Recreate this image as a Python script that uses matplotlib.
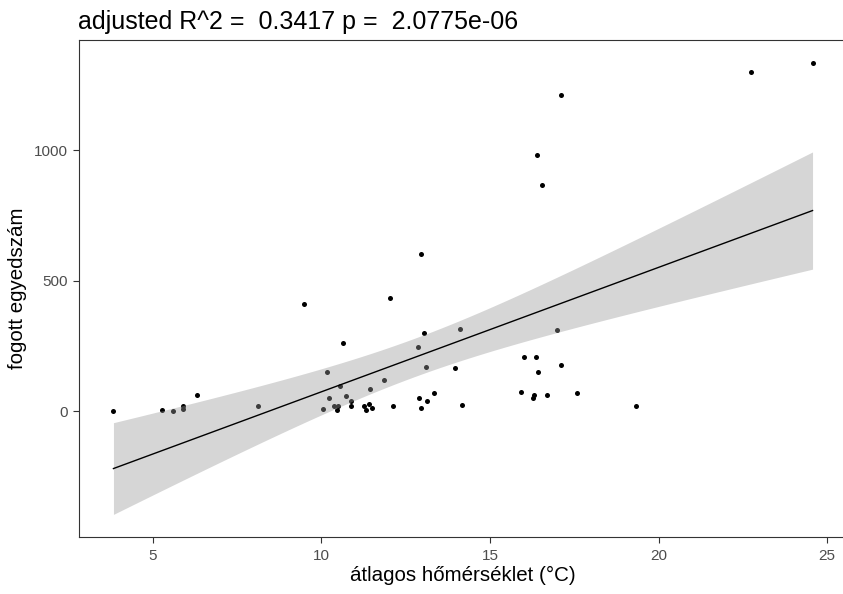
"""
plot.py -- catch count vs. mean temperature, linear fit with 95% CI band (ggplot look).
"""
import numpy as np
import matplotlib
matplotlib.use("Agg")
import matplotlib.pyplot as plt

# mean temperature (°C) per sample
temp = [3.83, 5.27, 5.60, 5.88, 5.88, 6.31, 8.13, 9.47, 10.04, 10.17,
        10.23, 10.36, 10.48, 10.46, 10.54, 10.64, 10.74, 10.89, 10.89, 11.27,
        11.40, 11.32, 11.51, 11.43, 11.86, 12.04, 12.12, 12.86, 12.88, 12.94,
        12.96, 13.04, 13.09, 13.14, 13.33, 13.96, 14.10, 14.17, 15.91, 16.01,
        16.28, 16.32, 16.37, 16.39, 16.42, 16.55, 16.68, 16.99, 17.11, 17.12,
        17.57, 19.33, 22.74, 24.57]
# caught individuals
count = [0, 6, 0, 20, 8, 61, 19, 411, 9, 151,
         52, 19, 20, 5, 98, 263, 59, 38, 19, 19,
         27, 6, 14, 84, 118, 432, 19, 246, 49, 603,
         14, 299, 171, 38, 69, 167, 315, 22, 75, 207,
         52, 62, 207, 982, 152, 867, 61, 313, 1211, 177,
         68, 19, 1299, 1336]

x_ticks = [5, 10, 15, 20, 25]
y_ticks = [0, 500, 1000]
title = "adjusted R^2 =  0.3417 p =  2.0775e-06"
x_label = "átlagos hőmérséklet (°C)"
y_label = "fogott egyedszám"

T_975 = 2.0066  # t quantile, df = n - 2 = 52

x = np.asarray(temp, dtype=float)
y = np.asarray(count, dtype=float)
n = len(x)

# OLS fit + confidence band like geom_smooth(method = "lm")
slope, intercept = np.polyfit(x, y, 1)
resid = y - (intercept + slope * x)
s = np.sqrt(np.sum(resid ** 2) / (n - 2))
sxx = np.sum((x - x.mean()) ** 2)
xs = np.linspace(x.min(), x.max(), 80)
fit = intercept + slope * xs
se = s * np.sqrt(1 / n + (xs - x.mean()) ** 2 / sxx)
lo, hi = fit - T_975 * se, fit + T_975 * se

plt.rcParams["font.family"] = ["Liberation Sans", "DejaVu Sans"]

W, H = 843, 594
fig = plt.figure(figsize=(W / 100, H / 100), dpi=100)
left, right, bottom, top = 78.5, 847.5, 537, 40
ax = fig.add_axes([left / W, 1 - bottom / H, (right - left) / W, (bottom - top) / H])

ax.scatter(x, y, s=13, color="black", linewidths=0, zorder=1)
ax.fill_between(xs, lo, hi, color="#999999", alpha=0.4, linewidth=0, zorder=2)
ax.plot(xs, fit, color="black", linewidth=1.0, zorder=3)

# ggplot-ish 5% expansion
xr = x.max() - x.min()
ax.set_xlim(x.min() - 0.05 * xr, x.max() + 0.05 * xr)
ymin, ymax = min(y.min(), lo.min()), max(y.max(), hi.max())
yr = ymax - ymin
ax.set_ylim(ymin - 0.05 * yr, ymax + 0.05 * yr)

ax.set_xticks(x_ticks)
ax.set_yticks(y_ticks)
ax.tick_params(colors="#333333", labelcolor="#4D4D4D", labelsize=11, length=4, width=0.8)
ax.tick_params(axis="x", pad=5)
for sp in ax.spines.values():
    sp.set_color("#333333")
    sp.set_linewidth(0.8)

ax.set_xlabel(x_label, fontsize=14.8, labelpad=2)
ax.set_ylabel(y_label, fontsize=14.8, labelpad=5)
fig.text(left / W, 1 - 29 / H, title, fontsize=18, ha="left", va="baseline")

fig.savefig("out.png", dpi=100)
